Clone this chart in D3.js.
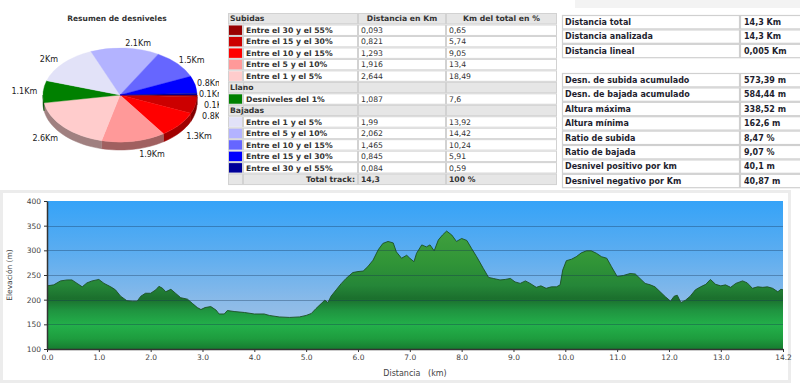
<!DOCTYPE html>
<html>
<head>
<meta charset="utf-8">
<script src="https://cdn.jsdelivr.net/npm/d3@7"></script>
<style>
  body { margin: 0; background: #fff; }
  svg { display: block; }
  text { font-family: 'DejaVu Sans', Verdana, sans-serif; }
</style>
</head>
<body>
<div id="chart-area"></div>
<script>
// DATA: RESUMEN DE DESNIVELES
const tramosSubida = ['Entre el 30 y el 55%', 'Entre el 15 y el 30%', 'Entre el 10 y el 15%', 'Entre el 5 y el 10%', 'Entre el 1 y el 5%']
const subidaKm = [0.093, 0.821, 1.293, 1.916, 2.644]
const subidaPct = [0.65, 5.74, 9.05, 13.4, 18.49]

const tramosLlano = ['Desniveles del 1%']
const llanoKm = [1.087]
const llanoPct = [7.6]

const tramosBajada = ['Entre el 1 y el 5%', 'Entre el 5 y el 10%', 'Entre el 10 y el 15%', 'Entre el 15 y el 30%', 'Entre el 30 y el 55%']
const bajadaKm = [1.99, 2.062, 1.465, 0.845, 0.084]
const bajadaPct = [13.92, 14.42, 10.24, 5.91, 0.59]

const totalKm = '14,3'
const totalPct = '100 %'

// DATA: ESTADISTICAS
const statsDistLabels = ['Distancia total', 'Distancia analizada', 'Distancia lineal']
const statsDistValues = ['14,3 Km', '14,3 Km', '0,005 Km']
const statsAltLabels = ['Desn. de subida acumulado', 'Desn. de bajada acumulado', 'Altura máxima', 'Altura mínima',
                        'Ratio de subida', 'Ratio de bajada', 'Desnivel positivo por km', 'Desnivel negativo por Km']
const statsAltValues = ['573,39 m', '584,44 m', '338,52 m', '162,6 m', '8,47 %', '9,07 %', '40,1 m', '40,87 m']

// DATA: PERFIL (km, m)
const distancia = [0, 0.13, 0.26, 0.39, 0.48, 0.58, 0.68, 0.77, 0.87, 1.0, 1.1, 1.23, 1.32, 1.42, 1.54, 1.65, 1.74, 1.81, 1.9, 2.0,
                   2.1, 2.16, 2.23, 2.29, 2.39, 2.48, 2.58, 2.71, 2.81, 2.9, 2.97, 3.05, 3.16, 3.26, 3.32, 3.42, 3.48, 3.61, 3.81, 4.0,
                   4.19, 4.29, 4.48, 4.68, 4.87, 5.0, 5.1, 5.19, 5.29, 5.36, 5.42, 5.48, 5.58, 5.68, 5.77, 5.9, 6.0, 6.1, 6.19, 6.29,
                   6.39, 6.48, 6.58, 6.68, 6.74, 6.84, 6.94, 7.0, 7.08, 7.13, 7.23, 7.32, 7.39, 7.47, 7.55, 7.63, 7.71, 7.81, 7.9, 8.0,
                   8.1, 8.19, 8.29, 8.42, 8.52, 8.61, 8.74, 8.84, 8.94, 9.03, 9.13, 9.23, 9.32, 9.44, 9.53, 9.63, 9.73, 9.83, 9.9, 9.95,
                   10.02, 10.12, 10.21, 10.31, 10.41, 10.5, 10.6, 10.7, 10.8, 10.89, 11.0, 11.12, 11.25, 11.35, 11.44, 11.54, 11.64, 11.73, 11.83, 11.93,
                   12.03, 12.1, 12.16, 12.23, 12.32, 12.41, 12.51, 12.61, 12.71, 12.8, 12.9, 13.0, 13.09, 13.19, 13.29, 13.42, 13.51, 13.61, 13.71, 13.81,
                   13.9, 14.0, 14.1, 14.16, 14.2]
const elevacion = [228, 230, 238, 240, 240, 233, 226, 234, 238, 241, 233, 226, 220, 207, 198, 197, 197, 207, 213, 213,
                   220, 227, 223, 216, 221, 213, 204, 201, 192, 184, 180, 184, 186, 179, 171, 171, 178, 176, 174, 171,
                   171, 168, 165, 164, 165, 168, 172, 182, 192, 199, 194, 207, 220, 233, 243, 255, 257, 258, 267, 280,
                   301, 314, 318, 315, 297, 284, 290, 284, 277, 294, 311, 307, 311, 299, 321, 331, 339, 331, 318, 324,
                   320, 304, 287, 263, 245, 243, 240, 241, 243, 236, 233, 238, 233, 225, 228, 223, 226, 226, 230, 260,
                   279, 282, 287, 295, 299, 299, 294, 287, 284, 267, 247, 249, 253, 252, 243, 233, 230, 226, 216, 206,
                   197, 207, 209, 194, 199, 207, 220, 226, 231, 241, 231, 228, 230, 225, 233, 238, 234, 223, 226, 225,
                   226, 223, 216, 221, 220]
const xTicks = [0, 1, 2, 3, 4, 5, 6, 7, 8, 9, 10, 11, 12, 13, 14.2]
const yTicks = [100, 150, 200, 250, 300, 350, 400]

// COLORES
const subidaColors = ['#990000', '#cc0000', '#ff0000', '#ff9999', '#ffcccc']
const llanoColors = ['#008000']
const bajadaColors = ['#e2e2f8', '#b3b3ff', '#6666ff', '#0000ff', '#000099']

const fmtNum = v => String(v).replace('.', ',')

// SVG
const svg = d3.select('#chart-area')
              .append('svg')
              .attr('width', 800)
              .attr('height', 387)

const defs = svg.append('defs')

// ---------------------------------------------------------------
// PIE 3D
// ---------------------------------------------------------------
const pieData = []
tramosSubida.forEach((t, i) => pieData.push({ value: subidaKm[i], color: subidaColors[i] }))
tramosLlano.forEach((t, i) => pieData.push({ value: llanoKm[i], color: llanoColors[i] }))
tramosBajada.forEach((t, i) => pieData.push({ value: bajadaKm[i], color: bajadaColors[i] }))

const pc = { x: 120, y: 95, rx: 77, ry: 47, depth: 8 }

defs.append('clipPath')
    .attr('id', 'pie-clip')
    .append('rect')
    .attr('x', 0).attr('y', 0)
    .attr('width', 219).attr('height', 180)

svg.append('text')
   .attr('x', 117)
   .attr('y', 21)
   .attr('text-anchor', 'middle')
   .attr('font-size', '7.5px')
   .attr('font-weight', 'bold')
   .attr('fill', '#333')
   .text('Resumen de desniveles')

const pieG = svg.append('g').attr('clip-path', 'url(#pie-clip)')

const pie = d3.pie()
              .value(d => d.value)
              .sort(null)
              .startAngle(Math.PI / 2)
              .endAngle(Math.PI / 2 + 2 * Math.PI)
const arcs = pie(pieData)

const ex = a => pc.x + pc.rx * Math.sin(a)
const ey = a => pc.y - pc.ry * Math.cos(a)

// SIDES (front half only: angles PI/2 .. 3PI/2)
arcs.forEach(d => {
    const a0 = Math.max(d.startAngle, Math.PI / 2)
    const a1 = Math.min(d.endAngle, 3 * Math.PI / 2)
    if (a1 <= a0) return
    const n = Math.max(2, Math.ceil((a1 - a0) / 0.05))
    const top = d3.range(n + 1).map(i => a0 + (a1 - a0) * i / n)
    const pts = top.map(a => [ex(a), ey(a)])
                   .concat(top.slice().reverse().map(a => [ex(a), ey(a) + pc.depth]))
    pieG.append('path')
        .attr('d', d3.line()(pts) + 'Z')
        .attr('fill', d3.color(d.data.color).darker(1.3))
        .attr('stroke', d3.color(d.data.color).darker(1.3))
        .attr('stroke-width', 0.5)
})

// TOP FACE
const arcGen = d3.arc().innerRadius(0).outerRadius(100)
pieG.append('g')
    .attr('transform', `translate(${pc.x},${pc.y}) scale(${pc.rx / 100},${pc.ry / 100})`)
    .selectAll('path')
    .data(arcs)
    .enter()
    .append('path')
    .attr('d', arcGen)
    .attr('fill', d => d.data.color)
    .attr('stroke', d => d.data.color)
    .attr('stroke-width', 0.6)

// LABELS
const fmtKm = d3.format('.1~f')
const labels = arcs.map(d => {
    const m = (d.startAngle + d.endAngle) / 2
    const s = Math.sin(m), c = Math.cos(m)
    const lower = c < 0
    return {
        x: pc.x + (pc.rx + 2) * s + (s >= 0 ? (lower ? 5 : 0) : -4),
        y: pc.y - (pc.ry + 5) * c + (lower ? pc.depth : 0),
        side: s >= 0 ? 'start' : 'end',
        text: fmtKm(d.data.value) + 'Km'
    }
})
;['start', 'end'].forEach(side => {
    const group = labels.filter(l => l.side === side).sort((a, b) => a.y - b.y)
    for (let i = 1; i < group.length; i++) {
        if (group[i].y - group[i - 1].y < 11) group[i].y = group[i - 1].y + 11
    }
})
pieG.selectAll('.pie-label')
    .data(labels)
    .enter()
    .append('text')
    .attr('class', 'pie-label')
    .attr('x', d => d.x)
    .attr('y', d => d.y)
    .attr('dy', '0.35em')
    .attr('text-anchor', d => d.side)
    .attr('font-size', '8px')
    .attr('fill', '#222')
    .text(d => d.text)

// ---------------------------------------------------------------
// TABLA DE DESNIVELES
// ---------------------------------------------------------------
const tb = { x: 228, y: 13, rowH: 11.47, cols: [228, 243, 358, 446, 557] }
const rows = []
rows.push({ type: 'head', title: 'Subidas', c3: 'Distancia en Km', c4: 'Km del total en %' })
tramosSubida.forEach((t, i) => rows.push({ type: 'data', color: subidaColors[i], label: t, km: subidaKm[i], pct: subidaPct[i] }))
rows.push({ type: 'head', title: 'Llano' })
tramosLlano.forEach((t, i) => rows.push({ type: 'data', color: llanoColors[i], label: t, km: llanoKm[i], pct: llanoPct[i] }))
rows.push({ type: 'head', title: 'Bajadas' })
tramosBajada.forEach((t, i) => rows.push({ type: 'data', color: bajadaColors[i], label: t, km: bajadaKm[i], pct: bajadaPct[i] }))
rows.push({ type: 'total' })

const tg = svg.append('g').attr('class', 'tabla')
rows.forEach((r, i) => {
    const y0 = tb.y + i * tb.rowH
    const cols = tb.cols
    tg.append('rect')
      .attr('x', cols[0]).attr('y', y0)
      .attr('width', cols[4] - cols[0]).attr('height', tb.rowH)
      .attr('fill', r.type === 'data' ? '#fff' : '#e6e6e6')
    for (let c = 0; c < 4; c++) {
        if (r.type === 'head' && c === 0) continue
        tg.append('rect')
          .attr('x', cols[c] + 0.5).attr('y', y0 + 0.5)
          .attr('width', cols[c + 1] - cols[c] - 1).attr('height', tb.rowH - 1)
          .attr('fill', 'none')
          .attr('stroke', '#d2d2d2')
          .attr('stroke-width', 1)
    }
    if (r.type === 'head') {
        tg.append('rect')
          .attr('x', cols[0] + 0.5).attr('y', y0 + 0.5)
          .attr('width', cols[2] - cols[0] - 1).attr('height', tb.rowH - 1)
          .attr('fill', 'none').attr('stroke', '#d2d2d2')
    }
    const ty = y0 + tb.rowH / 2
    const txt = (x, s, anchor, bold) => tg.append('text')
        .attr('x', x).attr('y', ty).attr('dy', '0.35em')
        .attr('text-anchor', anchor)
        .attr('font-size', '7.7px')
        .attr('font-weight', bold ? 'bold' : 'normal')
        .attr('fill', '#333')
        .text(s)
    if (r.type === 'head') {
        txt(cols[0] + 2, r.title, 'start', true)
        if (r.c3) {
            txt((cols[2] + cols[3]) / 2, r.c3, 'middle', true)
            txt((cols[3] + cols[4]) / 2, r.c4, 'middle', true)
        }
    } else if (r.type === 'data') {
        tg.append('rect')
          .attr('x', cols[0] + 1).attr('y', y0 + 1)
          .attr('width', cols[1] - cols[0] - 2).attr('height', tb.rowH - 2)
          .attr('fill', r.color)
        txt(cols[1] + 3, r.label, 'start', true)
        txt(cols[2] + 3, fmtNum(r.km), 'start', false)
        txt(cols[3] + 3, fmtNum(r.pct), 'start', false)
    } else {
        txt(cols[2] - 3, 'Total track:', 'end', true)
        txt(cols[2] + 3, totalKm, 'start', true)
        txt(cols[3] + 3, totalPct, 'start', true)
    }
})

// ---------------------------------------------------------------
// TABLA DE ESTADISTICAS
// ---------------------------------------------------------------
svg.append('rect')
   .attr('x', 575).attr('y', 0)
   .attr('width', 225).attr('height', 8)
   .attr('fill', '#f3f3f3')

const st = { x: 562, col: 740, right: 806, rowH: 14.4 }
const drawStats = (labelsArr, valuesArr, y0) => {
    labelsArr.forEach((l, i) => {
        const y = y0 + i * st.rowH
        svg.append('rect')
           .attr('x', st.x + 0.5).attr('y', y + 0.5)
           .attr('width', st.col - st.x - 1).attr('height', st.rowH - 1)
           .attr('fill', '#fff').attr('stroke', '#d0d0d0').attr('stroke-width', 1.2)
        svg.append('rect')
           .attr('x', st.col + 0.5).attr('y', y + 0.5)
           .attr('width', st.right - st.col - 1).attr('height', st.rowH - 1)
           .attr('fill', '#fff').attr('stroke', '#d0d0d0').attr('stroke-width', 1.2)
        svg.append('text')
           .attr('x', st.x + 3).attr('y', y + st.rowH / 2).attr('dy', '0.35em')
           .attr('font-size', '8px').attr('font-weight', 'bold')
           .attr('fill', '#1e1e2e')
           .text(l)
        svg.append('text')
           .attr('x', st.col + 4).attr('y', y + st.rowH / 2).attr('dy', '0.35em')
           .attr('font-size', '8px').attr('font-weight', 'bold')
           .attr('fill', '#1e1e2e')
           .text(valuesArr[i])
    })
}
drawStats(statsDistLabels, statsDistValues, 15)
drawStats(statsAltLabels, statsAltValues, 73)

// ---------------------------------------------------------------
// PERFIL DE ELEVACION
// ---------------------------------------------------------------
svg.append('rect')
   .attr('x', 1.5).attr('y', 191.5)
   .attr('width', 788).attr('height', 190)
   .attr('fill', '#fff')
   .attr('stroke', '#ececec')
   .attr('stroke-width', 3)

const margin = { left: 47, top: 201, right: 17, bottom: 38 }
const width = 800 - margin.left - margin.right
const height = 387 - margin.top - margin.bottom

const x = d3.scaleLinear().domain([0, 14.2]).range([0, width])
const y = d3.scaleLinear().domain([100, 400]).range([height, 0])

const sky = defs.append('linearGradient')
                .attr('id', 'sky')
                .attr('x1', 0).attr('y1', 0).attr('x2', 0).attr('y2', 1)
sky.append('stop').attr('offset', 0).attr('stop-color', '#35a3f8')
sky.append('stop').attr('offset', 0.35).attr('stop-color', '#5cadf0')
sky.append('stop').attr('offset', 0.7).attr('stop-color', '#8dbbe8')
sky.append('stop').attr('offset', 1).attr('stop-color', '#a6c7e8')

const grass = defs.append('linearGradient')
                  .attr('id', 'grass')
                  .attr('gradientUnits', 'userSpaceOnUse')
                  .attr('x1', 0).attr('y1', y(400)).attr('x2', 0).attr('y2', y(100))
const grassStops = [[0.2, '#40a03e'], [0.42, '#309437'], [0.57, '#258638'], [0.66, '#1b6f2d'],
                    [0.74, '#1f9440'], [0.84, '#23b04a'], [0.93, '#1e9c3e'], [1, '#177c30']]
grassStops.forEach(s => grass.append('stop').attr('offset', s[0]).attr('stop-color', s[1]))

const g = svg.append('g')
             .attr('transform', 'translate(' + margin.left + ',' + margin.top + ')')

g.append('rect')
 .attr('width', width)
 .attr('height', height)
 .attr('fill', 'url(#sky)')

const perfil = distancia.map((d, i) => ({ d: d, e: elevacion[i] }))

const area = d3.area()
               .x(p => x(p.d))
               .y0(height)
               .y1(p => y(p.e))
g.append('path')
 .datum(perfil)
 .attr('d', area)
 .attr('fill', 'url(#grass)')

g.append('path')
 .datum(perfil)
 .attr('d', d3.line().x(p => x(p.d)).y(p => y(p.e)))
 .attr('fill', 'none')
 .attr('stroke', '#1c4f22')
 .attr('stroke-width', 0.9)

// GRIDLINES
g.selectAll('.grid')
 .data(yTicks.filter(t => t > 100 && t < 400))
 .enter()
 .append('line')
 .attr('class', 'grid')
 .attr('x1', 0).attr('x2', width)
 .attr('y1', t => Math.round(y(t)) + 0.5).attr('y2', t => Math.round(y(t)) + 0.5)
 .attr('stroke', 'rgba(20,50,80,0.35)')
 .attr('stroke-width', 1)

// AXES
const xAxisGroup = g.append('g')
                    .attr('class', 'x-axis')
                    .attr('transform', 'translate(0, ' + height + ')')
                    .call(d3.axisBottom(x).tickValues(xTicks).tickFormat(d3.format('.1f')).tickSize(3).tickSizeOuter(0))
const yAxisGroup = g.append('g')
                    .attr('class', 'y-axis')
                    .call(d3.axisLeft(y).tickValues(yTicks).tickFormat(d3.format('d')).tickSize(3).tickSizeOuter(0))

;[xAxisGroup, yAxisGroup].forEach(ax => {
    ax.select('.domain').attr('stroke', '#333').attr('stroke-width', 1.5)
    ax.selectAll('line').attr('stroke', '#333')
    ax.selectAll('text')
      .attr('font-size', '7.5px')
      .attr('fill', '#444')
      .attr('font-family', "'DejaVu Sans', sans-serif")
})
xAxisGroup.selectAll('text').attr('y', 6)

svg.append('text')
   .attr('x', margin.left + width / 2)
   .attr('y', 376)
   .attr('text-anchor', 'middle')
   .attr('font-size', '8px')
   .attr('fill', '#444')
   .style('white-space', 'pre')
   .text('Distancia   (km)')

svg.append('text')
   .attr('transform', 'translate(12,' + (margin.top + height / 2) + ') rotate(-90)')
   .attr('text-anchor', 'middle')
   .attr('font-size', '7.5px')
   .attr('fill', '#444')
   .text('Elevación (m)')
</script>
</body>
</html>
